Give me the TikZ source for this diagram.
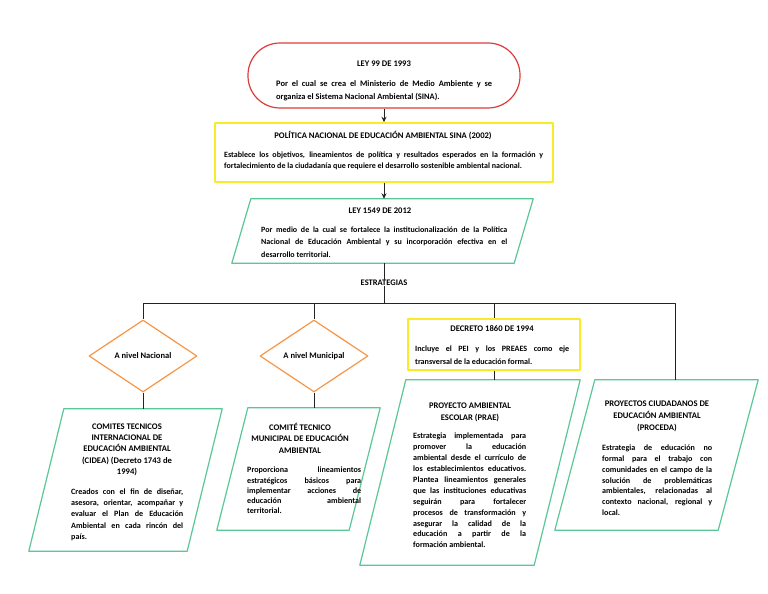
\documentclass[tikz,border=0pt]{standalone}
\usepackage{fontspec}
\setmainfont{Carlito}
\usetikzlibrary{arrows.meta,shapes.geometric}
\definecolor{redb}{RGB}{220,60,60}
\definecolor{yelb}{RGB}{250,235,40}
\definecolor{grnb}{RGB}{90,200,150}
\definecolor{orgb}{RGB}{247,150,70}
\definecolor{lineg}{RGB}{35,35,35}
\newcommand\myfnt[2]{\fontsize{#1}{#2}\selectfont\bfseries}
\newcommand\drawpara[2]{\draw[pline] ([xshift=#2pt]#1.north west) -- ([xshift=#2pt]#1.north east) -- ([xshift=-#2pt]#1.south east) -- ([xshift=-#2pt]#1.south west) -- cycle;}
\tikzset{
  pbox/.style={inner sep=0pt, draw=none},
  pline/.style={draw=grnb, line width=1.2pt},
  conn/.style={draw=lineg, line width=0.9pt},
  arr/.style={conn, -{Stealth[length=5.5pt,width=5pt]}},
  dmd/.style={diamond, draw=orgb, line width=1.2pt, inner sep=0pt, minimum width=108pt, minimum height=72pt, font=\myfnt{8.5}{10}},
  ttl/.style={inner sep=0pt, anchor=north, align=center},
  bod/.style={inner sep=0pt, anchor=north west, align=justify, text width=#1},
}
\begin{document}
\begin{tikzpicture}[x=1pt,y=-1pt,line join=round]
\fill[white] (0,0) rectangle (768,594);
\useasboundingbox (0,0) rectangle (768,594);

% ---- shapes
\node[draw=redb, line width=1.2pt, rounded corners=32pt, minimum width=272pt, minimum height=65pt, inner sep=0pt] (ley99) at (384,75.5) {};
\node[draw=yelb, line width=1.5pt, minimum width=338pt, minimum height=59pt, inner sep=0pt] (sina) at (384,152.5) {};
\node[pbox, minimum width=282pt, minimum height=64pt] (l15) at (382.5,231) {};
\drawpara{l15}{9.5}
\node[inner sep=0pt, font=\myfnt{8.5}{10}] (estr) at (384,283) {ESTRATEGIAS};
\node[dmd] (nac) at (143,356) {A nivel Nacional};
\node[dmd] (mun) at (314,356) {A nivel Municipal};
\node[draw=yelb, line width=1.5pt, minimum width=172pt, minimum height=51pt, inner sep=0pt] (dec) at (494,344.5) {};
\node[pbox, minimum width=158pt, minimum height=142pt] (cidea) at (125.5,480) {};
\drawpara{cidea}{17.5}
\node[pbox, minimum width=132pt, minimum height=122pt] (muni) at (298.5,469) {};
\drawpara{muni}{15.5}
\node[pbox, minimum width=174pt, minimum height=185pt] (prae) at (470,472.5) {};
\drawpara{prae}{23}
\node[pbox, minimum width=163pt, minimum height=150pt] (proc) at (656.5,455) {};
\drawpara{proc}{20}

% ---- connectors
\coordinate (bar) at (384,303);
\coordinate (procin) at (675,380);
\draw[arr] (ley99.south) -- (sina.north);
\draw[arr] (sina.south) -- (sina.south |- l15.north);
\draw[conn] (estr |- l15.south) -- (estr.north);
\draw[conn] (estr.south) -- (bar);
\draw[conn] (bar) -| (nac.north);
\draw[conn] (bar) -| (mun.north);
\draw[conn] (bar) -| (dec.north);
\draw[conn] (bar) -| (procin);
\draw[conn] (nac.south) -- (nac.south |- cidea.north);
\draw[conn] (mun.south) -- (mun.south |- muni.north);
\draw[conn] (dec.south) -- (dec.south |- prae.north);

% ---- texts
\node[ttl, font=\myfnt{8.6}{12}] (ley99t) at (384,58) {\strut LEY 99 DE 1993};
\node[bod=216pt, font=\myfnt{8.4}{13.5}] (ley99b) at (276,76.5) {\strut Por el cual se crea el Ministerio de Medio Ambiente y se\linebreak organiza el Sistema Nacional Ambiental (SINA).};

\node[ttl, font=\myfnt{8.6}{11.5}] (sinat) at (383,130) {\strut POLÍTICA NACIONAL DE EDUCACIÓN AMBIENTAL SINA (2002)};
\node[bod=319pt, font=\myfnt{8.0}{11.5}] (sinab) at (224,149) {\strut Establece los objetivos, lineamientos de política y resultados esperados en la formación y\linebreak fortalecimiento de la ciudadanía que requiere el desarrollo sostenible ambiental nacional.};

\node[ttl, font=\myfnt{8.6}{12.5}] (l15t) at (380,204.5) {\strut LEY 1549 DE 2012};
\node[bod=246pt, font=\myfnt{8.0}{12.8}] (l15b) at (261,223) {\strut Por medio de la cual se fortalece la institucionalización de la Política\linebreak Nacional de Educación Ambiental y su incorporación efectiva en el\linebreak desarrollo territorial.};

\node[ttl, font=\myfnt{8.6}{11.5}] (dect) at (492,323) {\strut DECRETO 1860 DE 1994};
\node[bod=154pt, font=\myfnt{8.1}{13}] (decb) at (415,342) {\strut Incluye el PEI y los PREAES como eje\linebreak transversal de la educación formal.};

\node[ttl, font=\myfnt{8.6}{11.3}] (cidt) at (127,421) {\strut COMITES TECNICOS\\INTERNACIONAL DE\\EDUCACIÓN AMBIENTAL\\(CIDEA) (Decreto 1743 de\\1994)};
\node[bod=112pt, font=\myfnt{8.1}{11.3}] (cidb) at (71,486) {\strut Creados con el fin de diseñar,\linebreak asesora, orientar, acompañar y\linebreak evaluar el Plan de Educación\linebreak Ambiental en cada rincón del\linebreak país.};

\node[ttl, font=\myfnt{8.6}{11.5}] (munt) at (300,422) {\strut COMITÉ TECNICO\\MUNICIPAL DE EDUCACIÓN\\AMBIENTAL};
\node[bod=114pt, font=\myfnt{8.1}{10.2}] (munb) at (247,465.5) {\strut Proporciona lineamientos\linebreak estratégicos básicos para\linebreak implementar acciones de\linebreak educación ambiental\linebreak territorial.};

\node[ttl, font=\myfnt{8.6}{11.8}] (praet) at (470,400) {\strut PROYECTO AMBIENTAL\\ESCOLAR (PRAE)};
\node[bod=113pt, font=\myfnt{8.1}{10.9}] (praeb) at (413,431) {\strut Estrategia implementada para\linebreak promover la educación\linebreak ambiental desde el currículo de\linebreak los establecimientos educativos.\linebreak Plantea lineamientos generales\linebreak que las instituciones educativas\linebreak seguirán para fortalecer\linebreak procesos de transformación y\linebreak asegurar la calidad de la\linebreak educación a partir de la\linebreak formación ambiental.};

\node[ttl, font=\myfnt{8.6}{12}] (proct) at (657,398) {\strut PROYECTOS CIUDADANOS DE\\EDUCACIÓN AMBIENTAL\\(PROCEDA)};
\node[bod=110pt, font=\myfnt{8.1}{10.8}] (procb) at (602,443) {\strut Estrategia de educación no\linebreak formal para el trabajo con\linebreak comunidades en el campo de la\linebreak solución de problemáticas\linebreak ambientales, relacionadas al\linebreak contexto nacional, regional y\linebreak local.};
\end{tikzpicture}
\end{document}
